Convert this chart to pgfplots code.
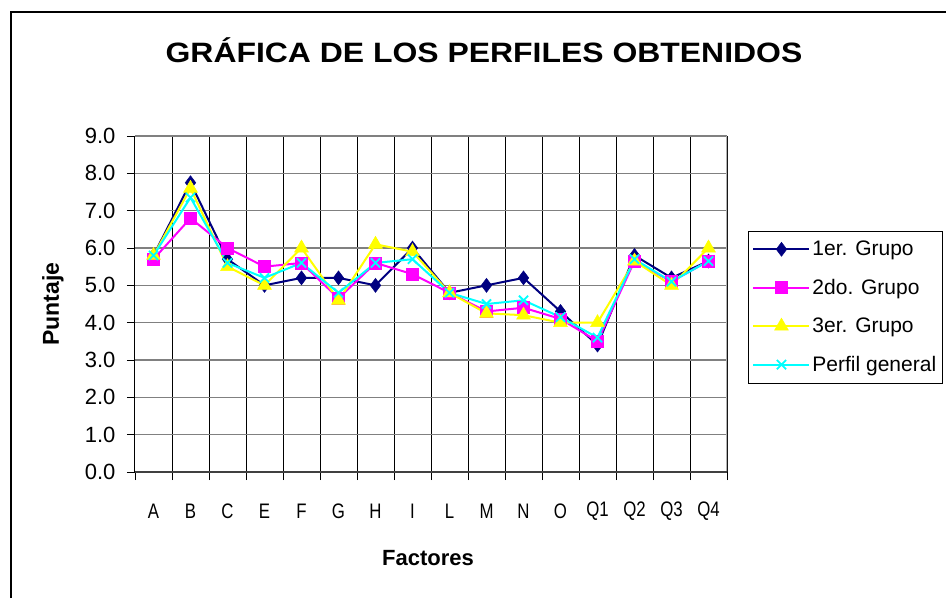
\documentclass[border=0pt]{standalone}
\usepackage{pgfplots}
\pgfplotsset{compat=1.18}
\usepackage{graphicx}
\usepackage{fontspec}
\setmainfont{Liberation Sans}
\definecolor{navyc}{HTML}{000080}
\definecolor{magc}{HTML}{FF00FF}
\definecolor{yelc}{HTML}{FFFF00}
\definecolor{cyac}{HTML}{00FFFF}
\newcommand{\nx}[1]{\scalebox{0.8}[1]{#1}}
\begin{document}
\begin{tikzpicture}
\useasboundingbox (0pt,0pt) rectangle (946pt,598pt);
\draw[line width=2pt] (11pt,0pt) -- (11pt,586pt) -- (946pt,586pt);
\begin{axis}[
  at={(135pt,126pt)}, anchor=south west,
  scale only axis, width=592pt, height=336pt,
  xmin=-0.5, xmax=15.5, ymin=0, ymax=9,
  xtick={0,...,15},
  xticklabels={\nx{A},\nx{B},\nx{C},\nx{E},\nx{F},\nx{G},\nx{H},\nx{I},\nx{L},\nx{M},\nx{N},\nx{O},\nx{Q1},\nx{Q2},\nx{Q3},\nx{Q4}},
  minor xtick={-0.5,0.5,...,15.5},
  ytick={0,1,...,9},
  yticklabel={\pgfmathprintnumber[fixed,fixed zerofill,precision=1]{\tick}},
  /pgf/number format/assume math mode=true,
  major x tick style={draw=none},
  minor x tick style={black, line width=0.9pt},
  minor tick length=8pt,
  major tick length=8pt,
  ytick style={black, line width=0.9pt},
  tick align=outside,
  tick pos=left,
  ymajorgrids, xminorgrids,
  major grid style={draw=gray, line width=1.1pt},
  minor grid style={draw=black, line width=1pt},
  axis line style={draw=none},
  tick label style={font=\fontsize{22}{22}\selectfont},
  xticklabel style={font=\fontsize{21}{21}\selectfont, anchor=center, yshift=-31pt},
  yticklabel style={anchor=east, xshift=-8pt},
  xlabel={Factores}, ylabel={Puntaje},
  xlabel style={font=\fontsize{22}{22}\selectfont\bfseries, at={(axis description cs:0.495,-0.256)}, anchor=center},
  ylabel style={font=\fontsize{23}{23}\selectfont\bfseries, at={(axis description cs:-0.1385,0.5)}, anchor=center},
  title={\scalebox{1.14}[1]{GRÁFICA DE LOS PERFILES OBTENIDOS}},
  title style={font=\fontsize{28}{28}\selectfont\bfseries, at={(axis description cs:0.5895,1.238)}, anchor=center},
  legend style={at={(1.0355,0.718)}, anchor=north west, draw=black, line width=0.9pt,
    font=\fontsize{21}{21}\selectfont, row sep=18pt, inner xsep=4pt, inner ysep=8pt,
    legend cell align=left},
  legend image code/.code={\draw[mark repeat=2,mark phase=2,#1] plot coordinates {(0pt,0pt) (28pt,0pt) (56pt,0pt)};},
  every axis plot/.append style={line width=2pt},
]
\draw[black, line width=1pt] (rel axis cs:0,0) -- (rel axis cs:0,1);
\draw[gray!60, line width=1.5pt] (rel axis cs:1,0) -- (rel axis cs:1,1);
\draw[black!75, line width=1.8pt] (rel axis cs:0,0) -- (rel axis cs:1,0);
\addplot[navyc, mark=diamond*, mark size=7pt, mark options={solid, fill=navyc, draw=navyc, line width=0.5pt}] coordinates {
(0,5.8) (1,7.75) (2,5.7) (3,5.0) (4,5.2) (5,5.2) (6,5.0) (7,6.0) (8,4.8) (9,5.0) (10,5.2) (11,4.3) (12,3.4) (13,5.8) (14,5.2) (15,5.65)};
\addlegendentry{1er. Grupo}
\addplot[magc, mark=square*, mark size=6pt, mark options={solid, fill=magc, draw=magc, line width=0.5pt}] coordinates {
(0,5.7) (1,6.8) (2,6.0) (3,5.5) (4,5.6) (5,4.65) (6,5.6) (7,5.3) (8,4.8) (9,4.3) (10,4.4) (11,4.1) (12,3.5) (13,5.65) (14,5.1) (15,5.65)};
\addlegendentry{2do. Grupo}
\addplot[yelc, mark=triangle*, mark size=8pt, mark options={solid, fill=yelc, draw=yelc, line width=0.5pt}] coordinates {
(0,5.8) (1,7.6) (2,5.5) (3,5.0) (4,6.0) (5,4.6) (6,6.1) (7,5.9) (8,4.8) (9,4.25) (10,4.2) (11,4.0) (12,4.0) (13,5.65) (14,5.0) (15,6.0)};
\addlegendentry{3er. Grupo}
\addplot[cyac, mark=x, mark size=6.5pt, mark options={solid, draw=cyac, line width=1.8pt}] coordinates {
(0,5.8) (1,7.35) (2,5.6) (3,5.2) (4,5.6) (5,4.8) (6,5.6) (7,5.7) (8,4.8) (9,4.5) (10,4.6) (11,4.15) (12,3.6) (13,5.7) (14,5.1) (15,5.65)};
\addlegendentry{Perfil general}
\end{axis}
\end{tikzpicture}
\end{document}
